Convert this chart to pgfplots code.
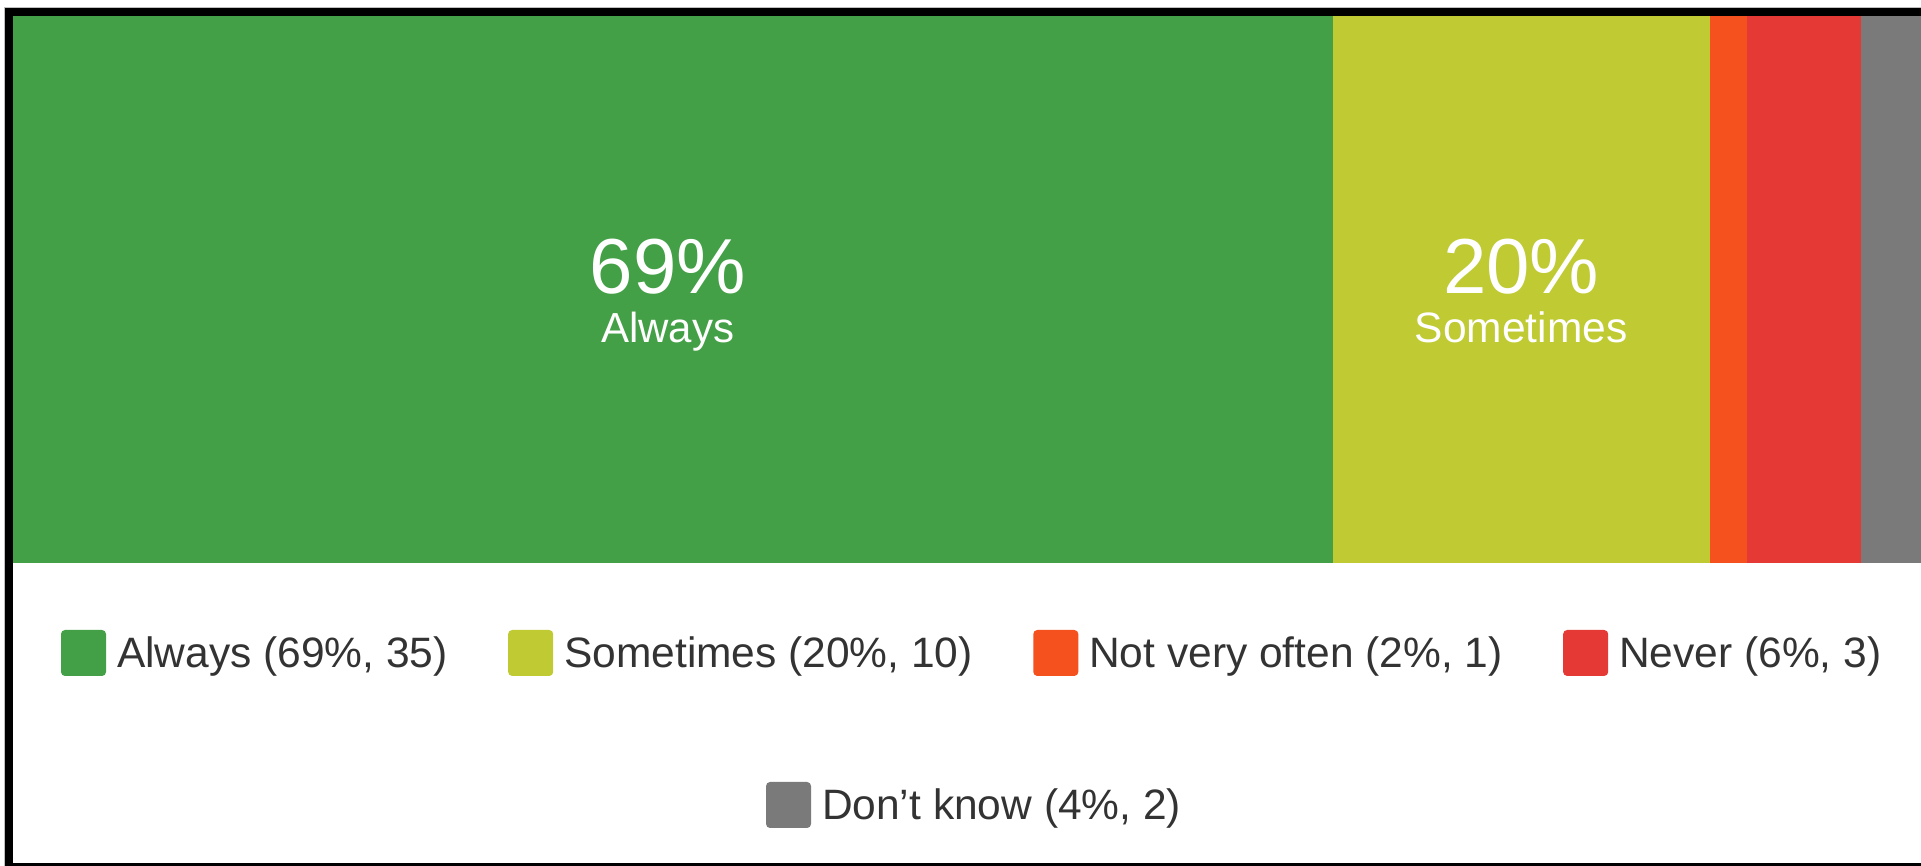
\documentclass[border=0pt]{standalone}
\usepackage{pgfplots}
\pgfplotsset{compat=1.18}
\usepackage{fontspec}
\setmainfont{Liberation Sans}
\definecolor{cAlways}{HTML}{43A047}
\definecolor{cSome}{HTML}{C0CA33}
\definecolor{cNot}{HTML}{F4511E}
\definecolor{cNever}{HTML}{E53935}
\definecolor{cDK}{HTML}{7A7A7A}
\definecolor{legtext}{HTML}{333333}
\pgfplotsset{
  sq/.style={legend image code/.code={\fill[##1, rounded corners=4bp] (0bp,-23bp) rectangle (45bp,23bp);}},
  sqlegend/.style={
    legend style={draw=none, fill=none, inner sep=0pt, outer sep=0pt,
      font=\fontsize{42.5bp}{50bp}\selectfont, text=legtext,
      nodes={inner sep=0pt},
      /tikz/every odd column/.append style={column sep=11bp},
      /tikz/every even column/.append style={column sep=60.5bp}},
    legend cell align=left,
  },
  base/.style={
    scale only axis, width=1923bp, height=547bp,
    at={(13bp,303bp)}, anchor=south west,
    xmin=0, xmax=51, ymin=-0.5, ymax=0.5,
    axis lines=none, ticks=none,
  }
}
\begin{document}
\begin{tikzpicture}
\useasboundingbox (0,0) rectangle (1921bp,866bp);
\clip (0,0) rectangle (1921bp,866bp);
\fill[white] (0,0) rectangle (1921bp,866bp);
\begin{axis}[base, sqlegend,
  xbar stacked, bar width=547bp,
  legend columns=4,
  legend style={at={(0.02496,-0.1645)}, anchor=west},
  clip=false,
]
\addplot[fill=cAlways, draw=none, sq] coordinates {(35,0)};
\addlegendentry{Always (69\%, 35)}
\addplot[fill=cSome, draw=none, sq] coordinates {(10,0)};
\addlegendentry{Sometimes (20\%, 10)}
\addplot[fill=cNot, draw=none, sq] coordinates {(1,0)};
\addlegendentry{Not very often (2\%, 1)}
\addplot[fill=cNever, draw=none, sq] coordinates {(3,0)};
\addlegendentry{Never (6\%, 3)}
\addplot[fill=cDK, draw=none, forget plot] coordinates {(2,0)};
\coordinate (gA) at (axis cs:17.5,0);
\coordinate (gS) at (axis cs:40,0);
\end{axis}
\begin{axis}[base, sqlegend,
  legend style={at={(0.3916,-0.4424)}, anchor=west},
]
\addlegendimage{fill=cDK, draw=none, sq}
\addlegendentry{Don't know (4\%, 2)}
\end{axis}
\node[white, anchor=base, font=\fontsize{78bp}{80bp}\selectfont] at ([xshift=-5bp,yshift=-4.5bp]gA) {69\%};
\node[white, anchor=base, font=\fontsize{42bp}{46bp}\selectfont] at ([xshift=-5bp,yshift=-53.5bp]gA) {Always};
\node[white, anchor=base, font=\fontsize{78bp}{80bp}\selectfont] at ([yshift=-4.5bp]gS) {20\%};
\node[white, anchor=base, font=\fontsize{42.5bp}{46bp}\selectfont] at ([yshift=-53.5bp]gS) {Sometimes};
\draw[black!25, line width=1bp] (4.5bp,-20bp) rectangle (1960bp,858.5bp);
\draw[black, line width=8bp] (9bp,-1bp) rectangle (1945bp,854bp);
\end{tikzpicture}
\end{document}
